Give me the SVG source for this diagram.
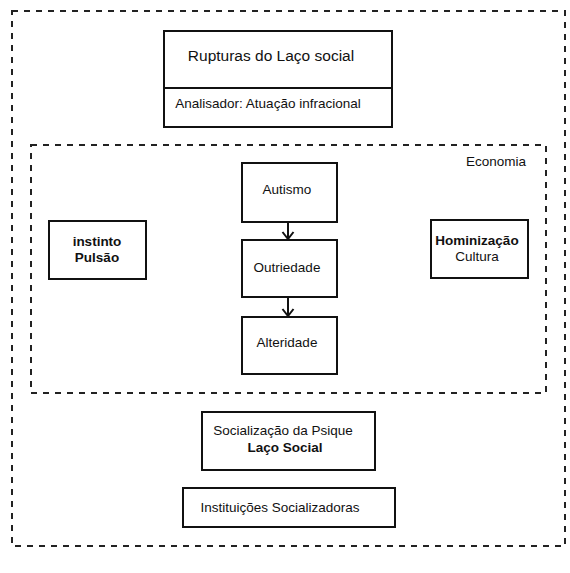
<svg xmlns="http://www.w3.org/2000/svg" width="570" height="573" viewBox="0 0 570 573">
  <style>
    .frame { fill: none; stroke: #222; stroke-width: 2; stroke-dasharray: 6 6; }
    .box { fill: #fff; stroke: #111; stroke-width: 2; }
    .t { font-family: "Liberation Sans", Arial, sans-serif; font-size: 13.5px; fill: #111; text-anchor: middle; }
    .b { font-weight: bold; }
    .edge { fill: none; stroke: #111; stroke-width: 2; }
  </style>
  <defs>
    <marker id="open" viewBox="0 0 14 12" refX="7" refY="11" markerWidth="14" markerHeight="12" orient="0" markerUnits="userSpaceOnUse">
      <path d="M1.5,4 L7,11 L12.5,4" fill="none" stroke="#111" stroke-width="2"/>
    </marker>
  </defs>
  <rect width="570" height="573" fill="#fff"/>

  <!-- outer and inner dashed frames -->
  <rect id="frame-outer" class="frame" x="12" y="11" width="553" height="535"/>
  <g id="frame-economia">
    <rect class="frame" x="31" y="145" width="515" height="248"/>
    <text class="t" x="496" y="166">Economia</text>
  </g>

  <g id="rupturas">
    <rect class="box" x="164" y="31" width="228" height="96"/>
    <line x1="164" y1="88" x2="392" y2="88" stroke="#111" stroke-width="2"/>
    <text class="t" x="271" y="61" style="font-size:15.5px">Rupturas do Laço social</text>
    <text class="t" x="268" y="108">Analisador: Atuação infracional</text>
  </g>

  <g id="autismo">
    <rect class="box" x="242" y="163" width="95" height="59"/>
    <text class="t" x="287" y="194">Autismo</text>
  </g>
  <g id="outriedade">
    <rect class="box" x="242" y="240" width="95" height="57"/>
    <text class="t" x="287" y="272">Outriedade</text>
  </g>
  <g id="alteridade">
    <rect class="box" x="242" y="317" width="95" height="57"/>
    <text class="t" x="287" y="347">Alteridade</text>
  </g>

  <g id="instinto">
    <rect class="box" x="49" y="221" width="97" height="58"/>
    <text class="t b" x="97" y="246">instinto</text>
    <text class="t b" x="97" y="262">Pulsão</text>
  </g>

  <g id="hominizacao">
    <rect class="box" x="431" y="220" width="97" height="58"/>
    <text class="t b" x="477" y="245">Hominização</text>
    <text class="t" x="477" y="261">Cultura</text>
  </g>

  <g id="socializacao">
    <rect class="box" x="202" y="412" width="173" height="58"/>
    <text class="t" x="283" y="435">Socialização da Psique</text>
    <text class="t b" x="285" y="452">Laço Social</text>
  </g>

  <g id="instituicoes">
    <rect class="box" x="183" y="488" width="212" height="39"/>
    <text class="t" x="280" y="512">Instituições Socializadoras</text>
  </g>

  <g id="connectors">
    <line class="edge" x1="288" y1="222" x2="288" y2="239" marker-end="url(#open)"/>
    <line class="edge" x1="288" y1="297" x2="288" y2="316" marker-end="url(#open)"/>
  </g>
</svg>
